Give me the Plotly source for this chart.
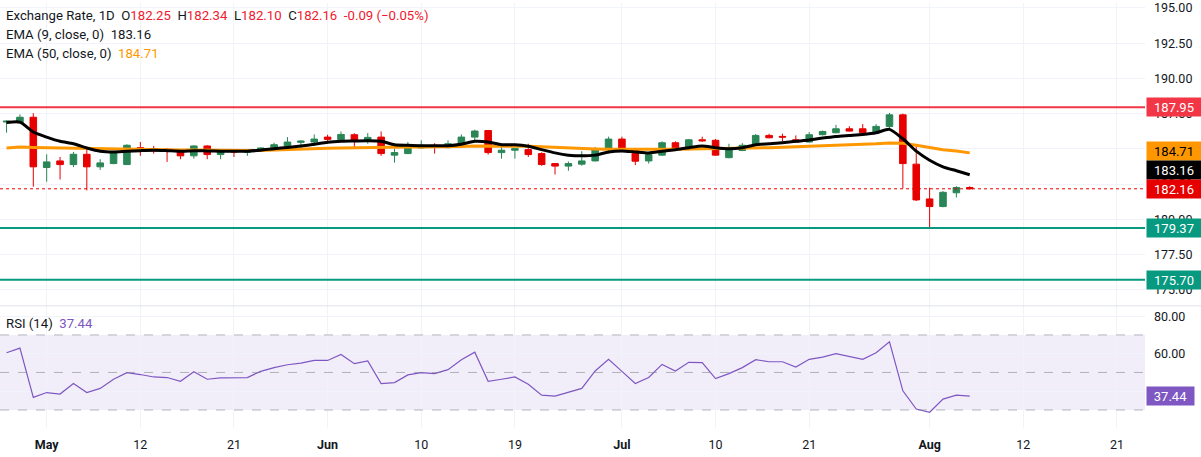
import plotly.graph_objects as go

# ---------------- data ----------------
dates = [
    "2026-04-28", "2026-04-29", "2026-04-30",
    "2026-05-01", "2026-05-04", "2026-05-05", "2026-05-06", "2026-05-07", "2026-05-08",
    "2026-05-11", "2026-05-12", "2026-05-13", "2026-05-14", "2026-05-15",
    "2026-05-18", "2026-05-19", "2026-05-20", "2026-05-21", "2026-05-22",
    "2026-05-25", "2026-05-26", "2026-05-27", "2026-05-28", "2026-05-29",
    "2026-06-01", "2026-06-02", "2026-06-03", "2026-06-04", "2026-06-05",
    "2026-06-08", "2026-06-09", "2026-06-10", "2026-06-11", "2026-06-12",
    "2026-06-15", "2026-06-16", "2026-06-17", "2026-06-18", "2026-06-19",
    "2026-06-22", "2026-06-23", "2026-06-24", "2026-06-25", "2026-06-26",
    "2026-06-29", "2026-06-30",
    "2026-07-01", "2026-07-02", "2026-07-03",
    "2026-07-06", "2026-07-07", "2026-07-08", "2026-07-09", "2026-07-10",
    "2026-07-13", "2026-07-14", "2026-07-15", "2026-07-16", "2026-07-17",
    "2026-07-20", "2026-07-21", "2026-07-22", "2026-07-23", "2026-07-24",
    "2026-07-27", "2026-07-28", "2026-07-29", "2026-07-30", "2026-07-31",
    "2026-08-03", "2026-08-04", "2026-08-05", "2026-08-06",
]

open_ = [186.90, 186.84, 187.24, 183.67, 184.14, 183.88, 184.61, 183.72, 183.95, 183.88,
         185.08, 185.01, 184.97, 184.83, 184.50, 185.20, 184.59, 184.82, 184.75, 184.83,
         184.97, 185.20, 185.46, 185.48, 185.83, 185.64, 186.00, 185.57, 185.83, 184.55,
         184.66, 185.06, 185.25, 185.08, 185.34, 185.83, 186.30, 184.73, 184.90, 184.94,
         184.66, 183.95, 183.77, 183.91, 184.14, 184.94, 185.69, 184.99, 184.14, 184.55,
         185.43, 184.94, 185.64, 185.60, 184.37, 184.88, 185.25, 185.95, 185.88, 185.64,
         185.48, 186.00, 186.14, 186.42, 186.42, 186.14, 186.59, 187.41, 183.91, 181.44,
         180.90, 181.88, 182.25]
high = [187.02, 187.44, 187.53, 184.61, 184.42, 184.78, 185.06, 184.26, 184.83, 185.32,
        185.48, 185.20, 185.06, 184.95, 185.25, 185.25, 184.95, 184.94, 184.97, 185.10,
        185.43, 185.83, 185.60, 186.02, 186.00, 186.23, 186.10, 186.12, 186.23, 185.01,
        185.48, 185.60, 185.40, 185.60, 186.02, 186.35, 186.33, 185.36, 185.06, 185.36,
        184.75, 183.98, 184.10, 184.83, 185.13, 185.86, 185.86, 185.06, 184.70, 185.53,
        185.53, 185.70, 185.86, 185.70, 185.36, 185.40, 186.05, 186.07, 186.07, 185.95,
        186.19, 186.30, 186.70, 186.60, 186.75, 186.75, 187.55, 187.50, 185.25, 182.24,
        182.00, 182.35, 182.34]
low = [186.14, 186.80, 182.31, 182.66, 182.82, 183.70, 182.05, 183.50, 183.91, 183.85,
       184.50, 184.66, 184.07, 184.26, 184.30, 184.26, 184.26, 184.42, 184.50, 184.80,
       184.90, 185.15, 184.97, 185.20, 185.36, 185.60, 185.13, 185.36, 184.50, 184.02,
       184.62, 185.02, 184.66, 185.05, 185.30, 185.55, 184.59, 184.30, 184.30, 184.42,
       183.80, 183.18, 183.44, 183.80, 184.10, 184.66, 184.90, 183.84, 183.95, 184.50,
       184.90, 184.90, 185.50, 184.50, 184.33, 184.83, 185.20, 185.75, 185.53, 185.45,
       185.45, 185.95, 186.10, 186.22, 186.10, 186.10, 186.40, 182.19, 181.30, 179.37,
       180.85, 181.55, 182.10]
close = [186.96, 187.24, 183.72, 184.07, 183.88, 184.61, 183.72, 184.00, 184.73, 185.25,
         184.97, 184.85, 184.93, 184.50, 185.20, 184.59, 184.78, 184.78, 184.82, 185.06,
         185.29, 185.48, 185.55, 185.69, 185.67, 186.02, 185.60, 185.81, 184.66, 184.73,
         185.10, 185.25, 185.10, 185.36, 185.83, 186.26, 184.73, 184.90, 185.01, 184.59,
         183.88, 183.77, 183.95, 184.14, 184.99, 185.69, 184.94, 184.12, 184.59, 185.43,
         185.01, 185.64, 185.57, 184.55, 184.94, 185.25, 185.95, 185.78, 185.83, 185.48,
         186.00, 186.23, 186.42, 186.26, 186.14, 186.59, 187.41, 183.95, 181.37, 180.90,
         181.91, 182.25, 182.16]

ema9 = [186.86, 186.89, 186.19, 185.83, 185.53, 185.36, 185.06, 184.83, 184.78, 184.83,
        184.87, 184.90, 184.87, 184.83, 184.87, 184.85, 184.83, 184.83, 184.83, 184.90,
        185.01, 185.10, 185.20, 185.32, 185.46, 185.53, 185.55, 185.57, 185.53, 185.29,
        185.25, 185.22, 185.22, 185.22, 185.32, 185.53, 185.48, 185.29, 185.29, 185.18,
        184.94, 184.71, 184.55, 184.50, 184.55, 184.78, 184.85, 184.78, 184.71, 184.83,
        184.94, 185.08, 185.20, 185.08, 185.01, 185.08, 185.29, 185.36, 185.43, 185.53,
        185.62, 185.76, 185.88, 185.95, 186.02, 186.14, 186.38, 185.71, 184.83, 184.19,
        183.72, 183.44, 183.16]
ema50 = [185.05, 185.12, 185.10, 185.08, 185.07, 185.05, 185.02, 185.00, 184.97, 184.96,
         184.95, 184.94, 184.93, 184.92, 184.92, 184.91, 184.90, 184.89, 184.88, 184.88,
         184.92, 184.96, 184.99, 185.02, 185.04, 185.06, 185.08, 185.10, 185.12, 185.12,
         185.12, 185.12, 185.12, 185.14, 185.16, 185.19, 185.20, 185.20, 185.20, 185.18,
         185.14, 185.09, 185.04, 185.00, 184.98, 184.96, 184.95, 184.94, 184.95, 184.96,
         184.97, 184.98, 184.98, 185.00, 185.00, 185.02, 185.05, 185.08, 185.11, 185.14,
         185.18, 185.22, 185.25, 185.28, 185.32, 185.36, 185.42, 185.40, 185.25, 185.08,
         184.94, 184.84, 184.71]
rsi = [60.5, 63.0, 36.7, 39.3, 38.5, 44.1, 39.3, 41.5, 46.4, 49.9,
       48.9, 47.6, 47.3, 45.3, 50.4, 46.4, 47.1, 47.1, 47.3, 50.6,
       52.6, 54.1, 55.0, 56.4, 56.4, 59.6, 54.7, 56.1, 44.1, 44.6,
       48.7, 49.9, 49.4, 51.5, 56.8, 60.8, 45.3, 46.4, 47.6, 43.7,
       37.9, 37.4, 39.3, 41.5, 50.8, 57.0, 50.6, 44.1, 47.3, 54.3,
       50.8, 55.4, 55.2, 46.7, 49.4, 52.6, 56.8, 55.7, 55.7, 52.9,
       57.0, 58.2, 60.0, 58.5, 57.0, 60.5, 66.3, 40.2, 30.5, 28.8,
       35.8, 37.9, 37.44]

resistance = 187.95
supports = [179.37, 175.70]
last_close = 182.16
ema9_last = 183.16
ema50_last = 184.71
rsi_last = 37.44

x_tick_dates = ["2026-05-01", "2026-05-12", "2026-05-21", "2026-06-01", "2026-06-10",
                "2026-06-19", "2026-07-01", "2026-07-10", "2026-07-21", "2026-08-03",
                "2026-08-12", "2026-08-21"]
x_tick_text = ["<b>May</b>", "12", "21", "<b>Jun</b>", "10", "19", "<b>Jul</b>", "10", "21",
               "<b>Aug</b>", "12", "21"]
price_ticks = [175.0, 177.5, 180.0, 182.5, 185.0, 187.5, 190.0, 192.5, 195.0]
rsi_ticks = [40, 60, 80]
rsi_tick_text = ["", "60.00", "80.00"]
rsi_levels = [70, 50, 30]

# ---------------- styling ----------------
GREEN = "#2a8656"
RED = "#e60000"
TXT = "#131722"
GRID = "#f0f3fa"
FONT = "Roboto"
W, H = 1201, 457
ML, MR, MT, MB = 0, 56, 0, 29
plot_h = H - MT - MB
split = 1 - 305 / plot_h
px_per_unit = 305 / (195.35 - 173.85)

fig = go.Figure()

fig.add_trace(go.Candlestick(
    x=dates, open=open_, high=high, low=low, close=close,
    increasing=dict(line=dict(color=GREEN, width=1), fillcolor=GREEN),
    decreasing=dict(line=dict(color=RED, width=1), fillcolor=RED),
    whiskerwidth=0, xaxis="x", yaxis="y", showlegend=False, hoverinfo="skip"))

fig.add_trace(go.Scatter(x=dates, y=ema50, mode="lines",
                         line=dict(color="#ff9800", width=3), xaxis="x", yaxis="y",
                         showlegend=False, hoverinfo="skip"))
fig.add_trace(go.Scatter(x=dates, y=ema9, mode="lines",
                         line=dict(color="#000000", width=3, shape="spline", smoothing=0.6),
                         xaxis="x", yaxis="y", showlegend=False, hoverinfo="skip"))

fig.add_trace(go.Scatter(x=dates, y=rsi, mode="lines",
                         line=dict(color="#7e57c2", width=1.2), xaxis="x2", yaxis="y2",
                         showlegend=False, hoverinfo="skip"))

shapes = []
# RSI band
shapes.append(dict(type="rect", xref="x2 domain", yref="y2", x0=0, x1=1,
                   y0=min(rsi_levels), y1=max(rsi_levels),
                   fillcolor="rgba(126,87,194,0.10)", line=dict(width=0), layer="below"))
for lv in rsi_levels:
    shapes.append(dict(type="line", xref="x2 domain", yref="y2", x0=0, x1=1, y0=lv, y1=lv,
                       line=dict(color="rgba(120,123,134,0.55)", width=1, dash="dash")))
# price levels
shapes.append(dict(type="line", xref="x domain", yref="y", x0=0, x1=1, y0=resistance,
                   y1=resistance, line=dict(color="#f23645", width=2)))
for s in supports:
    shapes.append(dict(type="line", xref="x domain", yref="y", x0=0, x1=1, y0=s, y1=s,
                       line=dict(color="#089981", width=2)))
shapes.append(dict(type="line", xref="x domain", yref="y", x0=0, x1=1, y0=last_close,
                   y1=last_close, line=dict(color=RED, width=1, dash="dot")))
# pane separator
shapes.append(dict(type="line", xref="paper", yref="paper", x0=0, x1=W / (W - MR - ML),
                   y0=split, y1=split, line=dict(color="#e0e3eb", width=1)))
fig.update_layout(shapes=shapes)

annotations = []


def price_label(val, ypos, bg, fg, width=50):
    annotations.append(dict(xref="paper", yref="y", x=1, y=ypos, xanchor="left",
                            yanchor="middle", text=f"{val:.2f}", showarrow=False,
                            bgcolor=bg, font=dict(family=FONT, size=13, color=fg),
                            width=width, height=14, borderpad=2, align="center", xshift=1))


price_label(resistance, resistance, "#f23645", "white")
price_label(ema50_last, ema50_last + (151 - 149.5) / px_per_unit, "#ff9800", "black")
price_label(ema9_last, ema9_last + (173 - 168.5) / px_per_unit, "#000000", "white")
price_label(last_close, last_close, RED, "white")
for s in supports:
    price_label(s, s, "#089981", "white")
annotations.append(dict(xref="paper", yref="y2", x=1, y=rsi_last, xanchor="left",
                        yanchor="middle", text=f"{rsi_last:.2f}", showarrow=False,
                        bgcolor="#7e57c2", font=dict(family=FONT, size=13, color="white"),
                        width=43, height=14, borderpad=2, align="center", xshift=1))

R = "#f0192e"
NB = "\u00a0"
GAP = NB * 2
line1 = (f"Exchange Rate, 1D{GAP}O<span style='color:{R}'>{open_[-1]:.2f}</span>{GAP}"
         f"H<span style='color:{R}'>{high[-1]:.2f}</span>{GAP}"
         f"L<span style='color:{R}'>{low[-1]:.2f}</span>{GAP}"
         f"C<span style='color:{R}'>{close[-1]:.2f}</span>{GAP}"
         f"<span style='color:{R}'>-0.09 (−0.05%)</span>")
line2 = f"EMA (9, close, 0){GAP}{ema9_last:.2f}"
line3 = f"EMA (50, close, 0){GAP}<span style='color:#ff9800'>{ema50_last:.2f}</span>"
line4 = f"RSI (14){GAP}<span style='color:#7e57c2'>{rsi_last:.2f}</span>"
for txt, dy, yp in [(line1, 12.7, 1), (line2, 31.7, 1), (line3, 50, 1), (line4, 17.7, split)]:
    annotations.append(dict(xref="paper", yref="paper", x=0, y=yp, xanchor="left",
                            yanchor="middle", yshift=-dy, xshift=4, text=txt, showarrow=False,
                            font=dict(family=FONT, size=13.2, color=TXT), align="left"))
fig.update_layout(annotations=annotations)

xr = ["2026-04-27 12:15", "2026-08-25 02:24"]
rb = [dict(bounds=["sat", "mon"])]
common_x = dict(type="date", range=xr, rangebreaks=rb, tickvals=x_tick_dates,
                ticktext=x_tick_text, showgrid=True, gridcolor=GRID, gridwidth=1,
                zeroline=False, showline=False, ticks="", fixedrange=True)

fig.update_layout(
    width=W, height=H, margin=dict(l=ML, r=MR, t=MT, b=MB),
    paper_bgcolor="white", plot_bgcolor="white",
    font=dict(family=FONT, size=12.5, color=TXT),
    showlegend=False,
    xaxis=dict(**common_x, anchor="y", showticklabels=False, rangeslider=dict(visible=False)),
    xaxis2=dict(**common_x, anchor="y2", matches="x", showticklabels=True,
                ticklabelstandoff=7, ticklabeloverflow="allow",
                tickfont=dict(family=FONT, size=12.5, color=TXT)),
    yaxis=dict(domain=[split, 1], range=[173.85, 195.35], side="right", tickvals=price_ticks,
               ticktext=[f"{v:.2f}" for v in price_ticks], showgrid=True, gridcolor=GRID,
               zeroline=False, showline=False, ticks="", ticklabelstandoff=8,
               ticklabeloverflow="allow",
               tickfont=dict(family=FONT, size=12.5, color=TXT), fixedrange=True),
    yaxis2=dict(domain=[0, split], range=[20.4, 85.5], side="right", tickvals=rsi_ticks,
                ticktext=rsi_tick_text, showgrid=True, gridcolor=GRID,
                zeroline=False, showline=False, ticks="", ticklabelstandoff=8,
                ticklabeloverflow="allow",
                tickfont=dict(family=FONT, size=12.5, color=TXT), fixedrange=True),
)

fig.write_html("out.html", config={"displayModeBar": False},
               post_script="document.body.style.margin='0';")
